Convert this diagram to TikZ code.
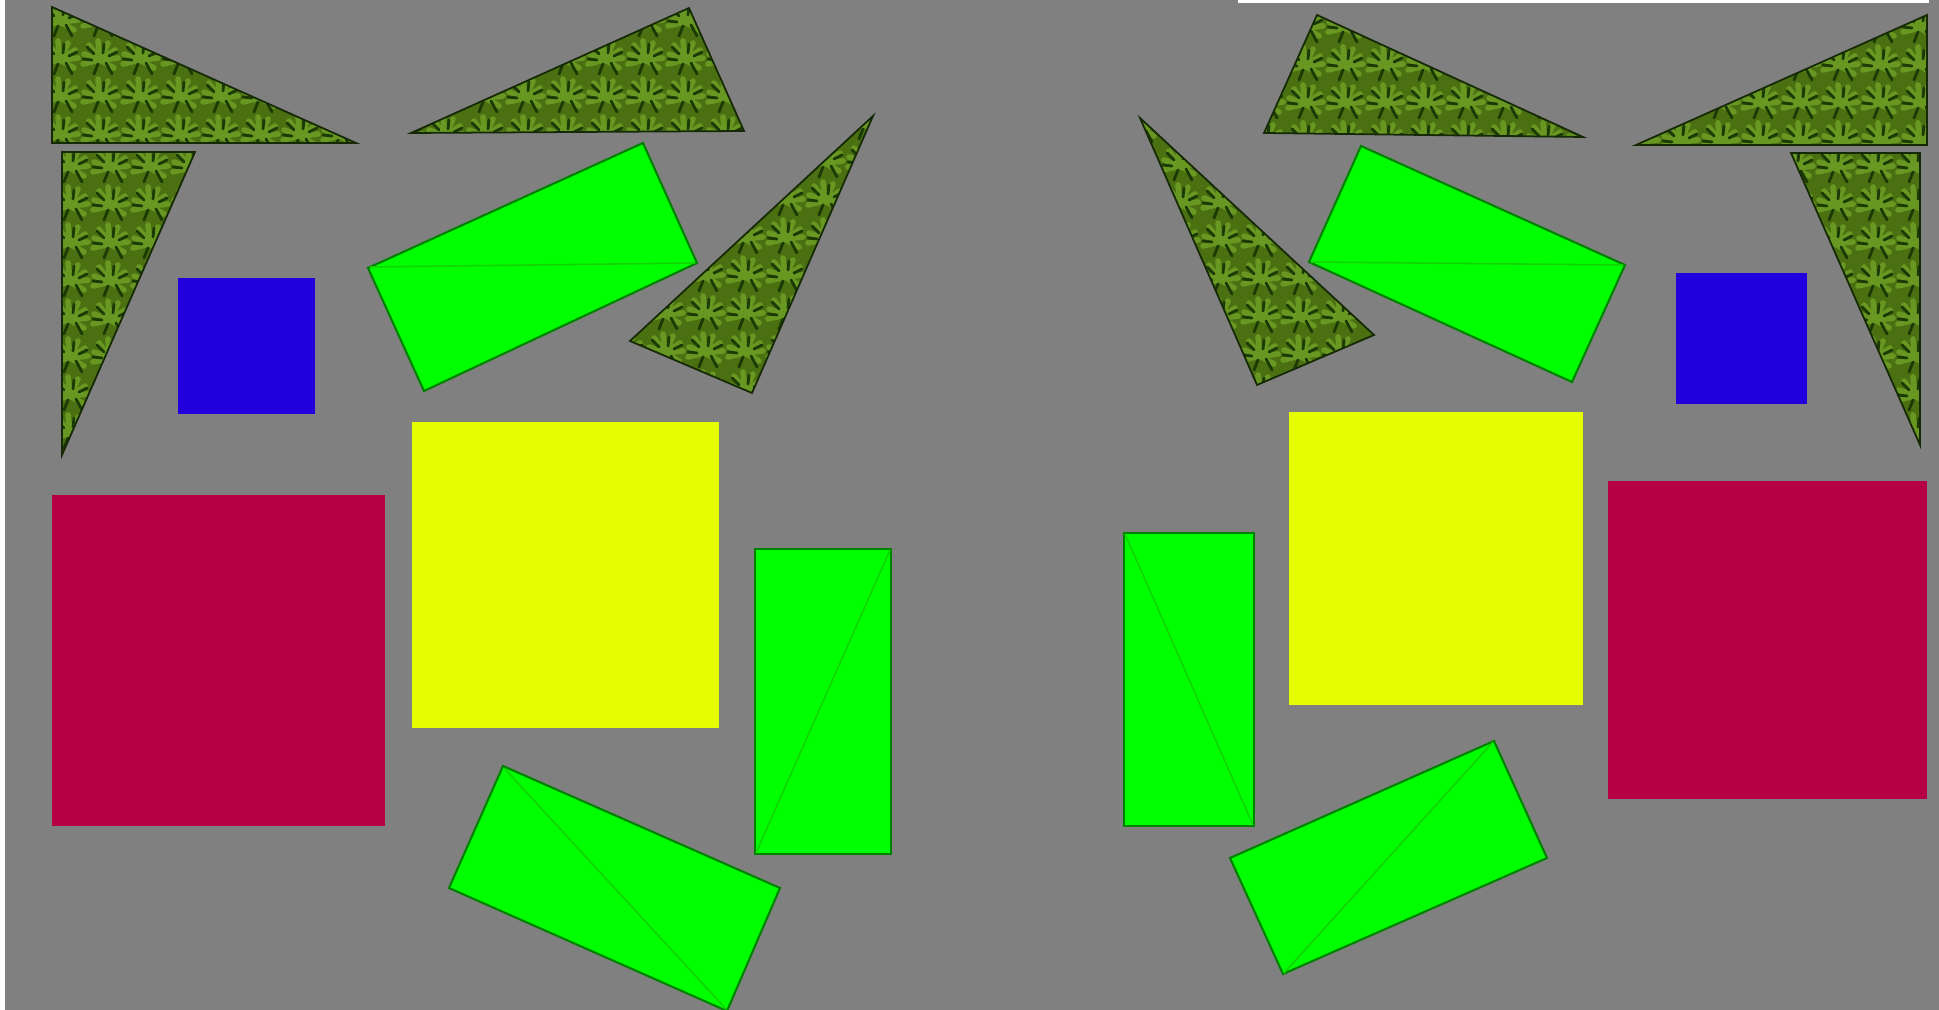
\documentclass[tikz,border=0pt]{standalone}
\definecolor{bg}{RGB}{128,128,128}
\definecolor{leaf}{RGB}{74,112,18}
\definecolor{leafdk}{RGB}{28,58,6}
\definecolor{leaflt}{RGB}{104,152,34}
\definecolor{grn}{RGB}{0,255,0}
\definecolor{grnline}{RGB}{0,130,0}
\definecolor{diag}{RGB}{18,212,0}
\definecolor{yel}{RGB}{229,255,0}
\definecolor{crim}{RGB}{181,0,69}
\definecolor{blu}{RGB}{34,0,221}
\tikzset{
  greenbox/.style={fill=grn, draw=grnline, line width=0.6pt, line join=miter},
  diagline/.style={draw=diag, line width=0.45pt},
  leafedge/.style={draw=leafdk!70!black, line width=0.5pt, line join=miter},
}
% #1,#2,#3: corners; #4,#5: origin of texture; #6 columns; #7 rows
\newcommand\leaftri[7]{%
  \begin{scope}
    \clip #1 -- #2 -- #3 -- cycle;
    \fill[leaf] #1 -- #2 -- #3 -- cycle;
    \foreach \j in {0,...,#7}{
      \foreach \i in {0,...,#6}{
        \draw[leaflt, line width=1.6pt, line cap=round, shift={({#4+\i*40},{#5+\j*38})}]
          (0,0) -- (-16,-6) (0,0) -- (-11,-15) (0,0) -- (-2,-19) (0,0) -- (8,-17)
          (0,0) -- (15,-10) (0,0) -- (18,-2) (0,0) -- (-17,4) (0,0) -- (14,8);
        \draw[leafdk, line width=0.8pt, line cap=round, shift={({#4+\i*40},{#5+\j*38})}]
          (-6,-6) -- (-13,-13) (3,-7) -- (4,-16) (9,-4) -- (17,-8) (-8,0) -- (-17,-1)
          (-2,4) -- (-6,14) (6,3) -- (12,14);
      }
    }
  \end{scope}
  \path[leafedge] #1 -- #2 -- #3 -- cycle;
}
\begin{document}
\begin{tikzpicture}[x=0.01cm,y=-0.01cm]
\useasboundingbox (0,0) rectangle (1939,1010);
\clip (0,0) rectangle (1939,1010);
\fill[white] (0,0) rectangle (1939,1010);
\fill[bg] (5,0) rectangle (1939,1010);
\fill[white] (1238,0) rectangle (1929,3);

% ---------- left half ----------
\leaftri{(52,7)}{(52,143)}{(356,143)}{60}{22}{8}{4}
\leaftri{(62,152)}{(195,152)}{(62,455)}{70}{168}{4}{8}
\leaftri{(411,133)}{(689,8)}{(744,131)}{405}{22}{9}{4}
\leaftri{(873,116)}{(630,341)}{(752,393)}{625}{125}{7}{8}

\fill[blu] (178,278) rectangle (315,414);
\fill[yel] (412,422) rectangle (719,728);
\fill[crim] (52,495) rectangle (385,826);

\path[greenbox] (368,268) -- (643,143) -- (697,263) -- (424,391) -- cycle;
\path[diagline] (370,267) -- (695,263);
\path[greenbox] (755,549) rectangle (891,854);
\path[diagline] (756,853) -- (890,550);
\path[greenbox] (503,766) -- (780,888) -- (727,1011) -- (449,888) -- cycle;
\path[diagline] (504,768) -- (726,1009);

% ---------- right half ----------
\leaftri{(1317,15)}{(1264,133)}{(1583,137)}{1265}{28}{9}{4}
\leaftri{(1927,15)}{(1636,145)}{(1927,145)}{1640}{28}{8}{4}
\leaftri{(1791,153)}{(1920,153)}{(1920,445)}{1795}{168}{4}{8}
\leaftri{(1140,118)}{(1374,335)}{(1257,385)}{1140}{128}{6}{8}

\fill[blu] (1676,273) rectangle (1807,404);
\fill[yel] (1289,412) rectangle (1583,705);
\fill[crim] (1608,481) rectangle (1927,799);

\path[greenbox] (1361,146) -- (1625,265) -- (1572,382) -- (1309,262) -- cycle;
\path[diagline] (1311,262) -- (1623,265);
\path[greenbox] (1124,533) rectangle (1254,826);
\path[diagline] (1125,534) -- (1253,825);
\path[greenbox] (1494,741) -- (1547,858) -- (1283,974) -- (1230,858) -- cycle;
\path[diagline] (1493,742) -- (1284,973);
\end{tikzpicture}
\end{document}
